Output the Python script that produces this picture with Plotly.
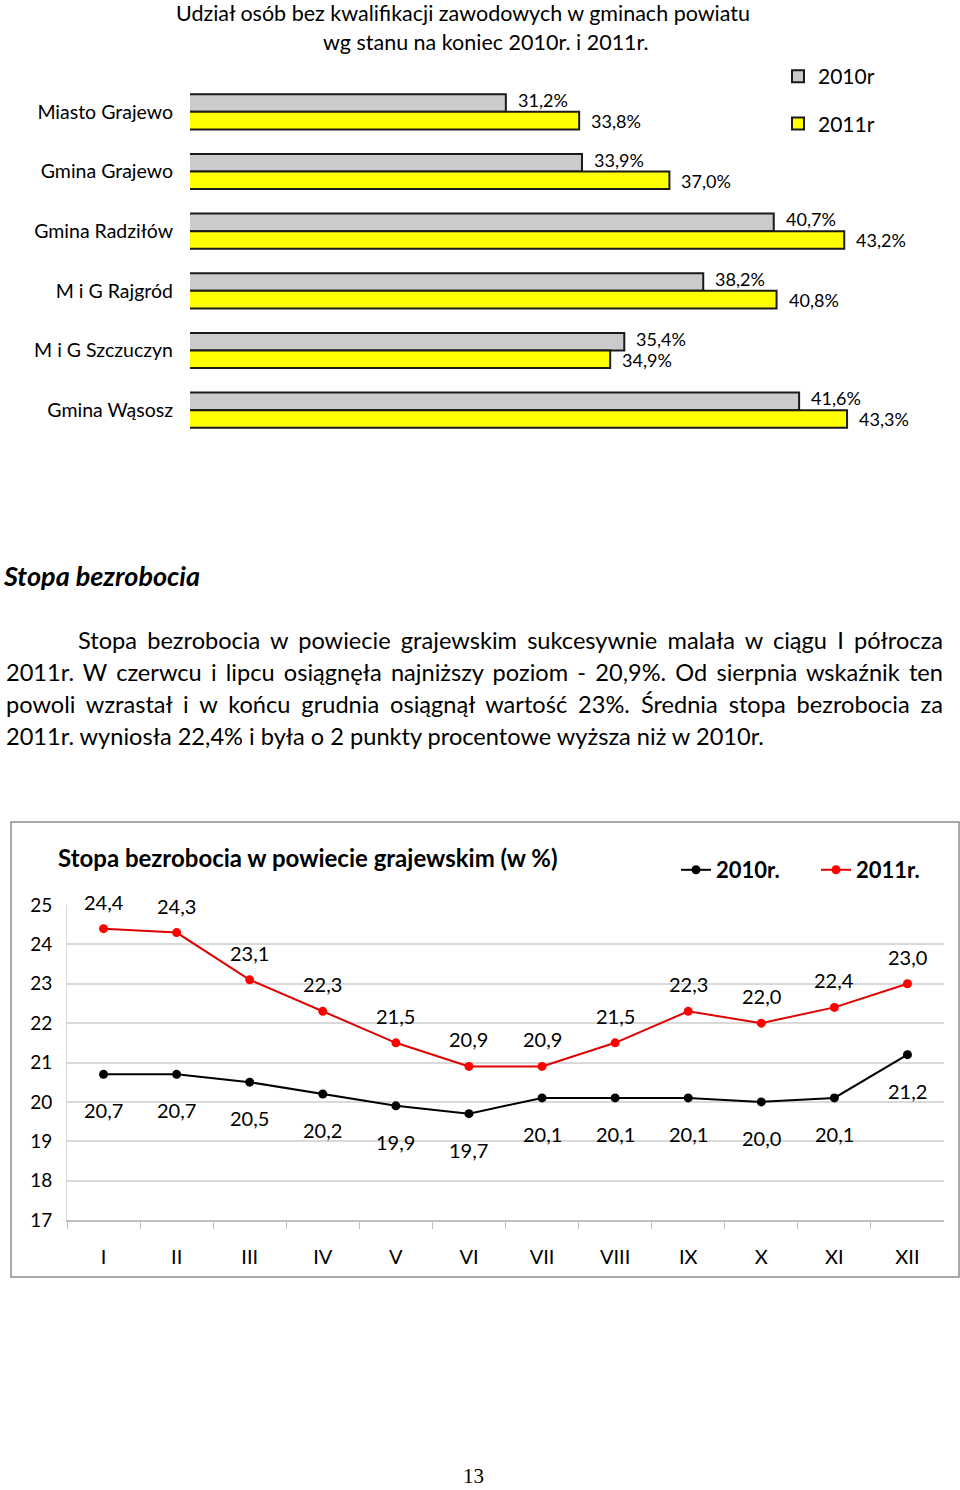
import json
import plotly.graph_objects as go

W, H = 960, 1490
def xp(px): return px / W
def yp(py): return 1 - py / H

# ---------------- data ----------------
gminy = ["Miasto Grajewo", "Gmina Grajewo", "Gmina Radziłów", "M i G Rajgród",
         "M i G Szczuczyn", "Gmina Wąsosz"]
kwal_2010 = [31.2, 33.9, 40.7, 38.2, 35.4, 41.6]
kwal_2011 = [33.8, 37.0, 43.2, 40.8, 34.9, 43.3]

miesiace = ["I", "II", "III", "IV", "V", "VI", "VII", "VIII", "IX", "X", "XI", "XII"]
stopa_2010 = [20.7, 20.7, 20.5, 20.2, 19.9, 19.7, 20.1, 20.1, 20.1, 20.0, 20.1, 21.2]
stopa_2011 = [24.4, 24.3, 23.1, 22.3, 21.5, 20.9, 20.9, 21.5, 22.3, 22.0, 22.4, 23.0]

FONT = "Lato"

def pct(v): return f"{v:.1f}%".replace(".", ",")
def num(v): return f"{v:.1f}".replace(".", ",")

fig = go.Figure()

# ---------------- bar chart ----------------
fig.add_trace(go.Bar(
    y=gminy, x=kwal_2010, orientation="h", name="2010r",
    marker=dict(color="#cbcbcb", line=dict(color="#1a1a1a", width=2)),
    xaxis="x", yaxis="y", legend="legend", legendgroup="a",
))
fig.add_trace(go.Bar(
    y=gminy, x=kwal_2011, orientation="h", name="2011r",
    marker=dict(color="#ffff00", line=dict(color="#1a1a1a", width=2)),
    xaxis="x", yaxis="y", legend="legend", legendgroup="b",
))

# ---------------- line chart ----------------
fig.add_trace(go.Scatter(
    x=miesiace, y=stopa_2010, mode="lines+markers", name="<b>2010r.</b>",
    line=dict(color="#000000", width=2),
    marker=dict(color="#000000", size=9),
    xaxis="x2", yaxis="y2", legend="legend2",
))
fig.add_trace(go.Scatter(
    x=miesiace, y=stopa_2011, mode="lines+markers", name="<b>2011r.</b>",
    line=dict(color="#e00000", width=2),
    marker=dict(color="#ff0000", size=9),
    xaxis="x2", yaxis="y2", legend="legend2",
))

annotations = []
# bar value labels
for g, v in zip(gminy, kwal_2010):
    annotations.append(dict(x=v, y=g, xref="x", yref="y", text=pct(v),
                            showarrow=False, xanchor="left", xshift=10, yshift=12,
                            font=dict(family=FONT, size=18, color="#000")))
for g, v in zip(gminy, kwal_2011):
    annotations.append(dict(x=v, y=g, xref="x", yref="y", text=pct(v),
                            showarrow=False, xanchor="left", xshift=10, yshift=-9,
                            font=dict(family=FONT, size=18, color="#000")))
# line value labels
for m, v in zip(miesiace, stopa_2011):
    annotations.append(dict(x=m, y=v, xref="x2", yref="y2", text=num(v),
                            showarrow=False, yshift=27,
                            font=dict(family=FONT, size=20, color="#000")))
for m, v in zip(miesiace, stopa_2010):
    annotations.append(dict(x=m, y=v, xref="x2", yref="y2", text=num(v),
                            showarrow=False, yshift=-36,
                            font=dict(family=FONT, size=20, color="#000")))

def txt(text, x, y, size, xanchor="left", bold=False, italic=False, family=FONT,
        align="center"):
    t = text
    if bold:
        t = f"<b>{t}</b>"
    if italic:
        t = f"<i>{t}</i>"
    annotations.append(dict(text=t, x=xp(x), y=yp(y), xref="paper", yref="paper",
                            xanchor=xanchor, yanchor="middle", showarrow=False,
                            align=align,
                            font=dict(family=family, size=size, color="#000")))

# bar chart title
txt("Udział osób bez kwalifikacji zawodowych w gminach powiatu", 463, 13, 21.5, "center")
txt("wg stanu na koniec 2010r. i 2011r.", 486, 42, 21.5, "center")

# section heading and paragraph
txt("Stopa bezrobocia", 1, 576, 27, bold=True, italic=True)
para = [
    "Stopa bezrobocia w powiecie grajewskim sukcesywnie malała w ciągu I półrocza",
    "2011r. W czerwcu i lipcu osiągnęła najniższy poziom - 20,9%. Od sierpnia wskaźnik ten",
    "powoli wzrastał i w końcu grudnia osiągnął wartość 23%. Średnia stopa bezrobocia za",
    "2011r. wyniosła 22,4% i była o 2 punkty procentowe wyższa niż w 2010r.",
]
para_x = [76, 4, 4, 4]
justify = {}
for i, line in enumerate(para):
    txt(line, para_x[i], 640 + 32 * i, 23.6, align="left")
    if i < len(para) - 1:
        justify[line] = 941 - para_x[i]

# line chart title
txt("Stopa bezrobocia w powiecie grajewskim (w %)", 56, 857, 24, bold=True)

# page number
txt("13", 473, 1476, 21, "center", family="Liberation Serif")

fig.update_layout(
    width=W, height=H,
    margin=dict(l=0, r=0, t=0, b=0, autoexpand=False),
    paper_bgcolor="#ffffff", plot_bgcolor="rgba(0,0,0,0)",
    barmode="group", bargap=0.41, bargroupgap=0,
    showlegend=True,
    font=dict(family=FONT, color="#000"),
    xaxis=dict(domain=[xp(190), xp(900)], range=[20, 20 + (900 - 190) / 28.2],
               visible=False, fixedrange=True),
    yaxis=dict(domain=[yp(440), yp(82)], autorange="reversed", showgrid=False,
               showline=False, zeroline=False, ticks="",
               tickfont=dict(family=FONT, size=19.5, color="#000"),
               ticklabelstandoff=16),
    xaxis2=dict(domain=[xp(67), xp(944)], anchor="y2", type="category",
                range=[-0.5, len(miesiace) - 0.5],
                showline=True, linecolor="#bfbfbf", linewidth=1.5,
                ticks="outside", tickson="boundaries", ticklen=7, tickcolor="#bfbfbf",
                showgrid=False, tickfont=dict(family=FONT, size=20, color="#000"),
                ticklabelstandoff=18),
    yaxis2=dict(domain=[yp(1220), yp(905)], anchor="x2", range=[17, 25], dtick=1,
                showgrid=True, gridcolor="#d9d9d9", gridwidth=1.5,
                showline=True, linecolor="#d9d9d9", linewidth=1, zeroline=False,
                tickfont=dict(family=FONT, size=19, color="#000"),
                ticklabelstandoff=10),
    legend=dict(x=xp(778), y=yp(56), xanchor="left", yanchor="top",
                orientation="v", tracegroupgap=17,
                font=dict(family=FONT, size=21, color="#000"),
                bgcolor="rgba(0,0,0,0)"),
    legend2=dict(x=xp(676), y=yp(870), xanchor="left", yanchor="middle",
                 orientation="h", entrywidth=95, entrywidthmode="pixels",
                 font=dict(family=FONT, size=22, color="#000"),
                 bgcolor="rgba(0,0,0,0)"),
    annotations=annotations,
    shapes=[dict(type="rect", xref="paper", yref="paper",
                 x0=xp(11), x1=xp(959), y0=yp(1277), y1=yp(822),
                 line=dict(color="#8c8c8c", width=1.5), fillcolor="rgba(0,0,0,0)",
                 layer="below")],
)

post = """
document.body.style.margin='0';
var targets = %s;
document.querySelectorAll('text.annotation-text').forEach(function(el){
  var t = el.textContent;
  if (Object.prototype.hasOwnProperty.call(targets, t)) {
    var w = el.getComputedTextLength();
    var n = (t.match(/ /g) || []).length;
    if (n > 0 && targets[t] > w) { el.style.wordSpacing = ((targets[t] - w) / n) + 'px'; }
  }
});
""" % json.dumps(justify, ensure_ascii=False)

fig.write_html("out.html", post_script=post, config={"displayModeBar": False})
